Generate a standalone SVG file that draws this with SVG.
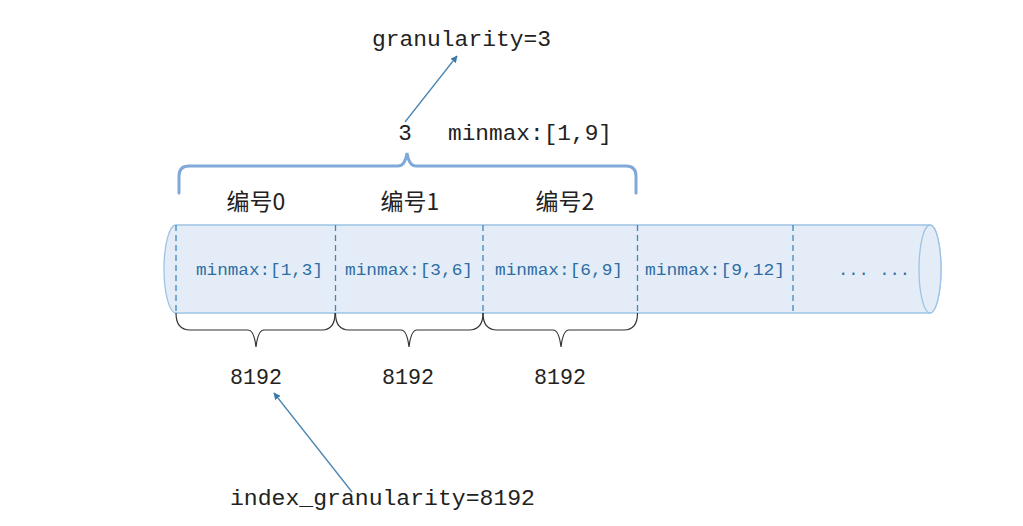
<svg xmlns="http://www.w3.org/2000/svg" width="1023" height="526" viewBox="0 0 1023 526">
<style>
.mono{font-family:"Liberation Mono","DejaVu Sans Mono",monospace;}
.cjk{font-family:"Noto Sans CJK SC","Noto Sans CJK JP",sans-serif;font-size:23px;fill:#222;}
.lbl{font-size:22.5px;fill:#222;}
.mm{font-size:16.5px;fill:#2e6da4;}
.div{stroke:#3f87bf;stroke-width:1.3;stroke-dasharray:6,4;fill:none;}
.brace{stroke:#333;stroke-width:1.2;fill:none;}
.arr{stroke:#4a86b4;stroke-width:1.3;fill:none;marker-end:url(#ah);}
</style>
<defs>
<marker id="ah" viewBox="0 0 10 10" refX="9" refY="5" markerWidth="7" markerHeight="7" orient="auto" markerUnits="userSpaceOnUse">
<path d="M0,0 L10,5 L0,10 z" fill="#3a78a8"/>
</marker>
</defs>
<rect width="1023" height="526" fill="#ffffff"/>
<g id="cylinder">
<path d="M176,225 L930,225 A11,44 0 0 1 930,313 L176,313 A12,44 0 0 1 176,225 Z" fill="#e4edf7" stroke="#9dc3e6" stroke-width="1.3"/>
<ellipse cx="930" cy="269" rx="11" ry="44" fill="#e4edf7" stroke="#9dc3e6" stroke-width="1.3"/>
</g>
<g id="dividers">
<line class="div" x1="176" y1="225" x2="176" y2="313"/>
<line class="div" x1="335.5" y1="225" x2="335.5" y2="313"/>
<line class="div" x1="483" y1="225" x2="483" y2="313"/>
<line class="div" x1="637.5" y1="225" x2="637.5" y2="313"/>
<line class="div" x1="793" y1="225" x2="793" y2="313"/>
</g>
<g id="granule-labels">
<text class="mono mm" x="196" y="275" textLength="127" lengthAdjust="spacingAndGlyphs">minmax:[1,3]</text>
<text class="mono mm" x="345" y="275" textLength="128" lengthAdjust="spacingAndGlyphs">minmax:[3,6]</text>
<text class="mono mm" x="495" y="275" textLength="128" lengthAdjust="spacingAndGlyphs">minmax:[6,9]</text>
<text class="mono mm" x="645" y="275" textLength="140" lengthAdjust="spacingAndGlyphs">minmax:[9,12]</text>
<text class="mono mm" x="838" y="275" textLength="72" lengthAdjust="spacingAndGlyphs">... ...</text>
</g>
<g id="mark-labels">
<text class="cjk" x="256" y="210" text-anchor="middle">编号0</text>
<text class="cjk" x="410" y="210" text-anchor="middle">编号1</text>
<text class="cjk" x="565" y="210" text-anchor="middle">编号2</text>
</g>
<g id="top-bracket">
<path d="M179,193 L179,176 Q179,166 189,166 L398,166 Q405,166 407,153 Q409,166 416,166 L626,166 Q636,166 636,176 L636,193" fill="none" stroke="#7ea9d8" stroke-width="3" stroke-linecap="round"/>
</g>
<g id="top-labels">
<text class="mono lbl" x="405" y="140" text-anchor="middle">3</text>
<text class="mono lbl" x="448" y="140" textLength="164" lengthAdjust="spacingAndGlyphs">minmax:[1,9]</text>
<text id="granularity" class="mono lbl" x="372" y="46" textLength="179" lengthAdjust="spacingAndGlyphs">granularity=3</text>
</g>
<g id="bottom-braces">
<path class="brace" d="M176,313 Q176,330 190,330 L248,330 Q254,330 256,347 Q258,330 264,330 L322,330 Q335,330 335,313"/>
<path class="brace" d="M335.5,313 Q335.5,330 349,330 L401,330 Q407,330 409,347 Q411,330 417,330 L469,330 Q483,330 483,313"/>
<path class="brace" d="M483,313 Q483,330 497,330 L553,330 Q559,330 561,347 Q563,330 569,330 L624,330 Q637.5,330 637.5,313"/>
</g>
<g id="counts">
<text class="mono lbl" x="256" y="384" text-anchor="middle" textLength="52" lengthAdjust="spacingAndGlyphs">8192</text>
<text class="mono lbl" x="408" y="384" text-anchor="middle" textLength="52" lengthAdjust="spacingAndGlyphs">8192</text>
<text class="mono lbl" x="560" y="384" text-anchor="middle" textLength="52" lengthAdjust="spacingAndGlyphs">8192</text>
</g>
<g id="index-granularity">
<text class="mono lbl" x="230" y="505" textLength="305" lengthAdjust="spacingAndGlyphs">index_granularity=8192</text>
</g>
<g id="connectors">
<line class="arr" x1="405" y1="122" x2="457" y2="56"/>
<line class="arr" x1="352" y1="492" x2="274" y2="393"/>
</g>
</svg>
